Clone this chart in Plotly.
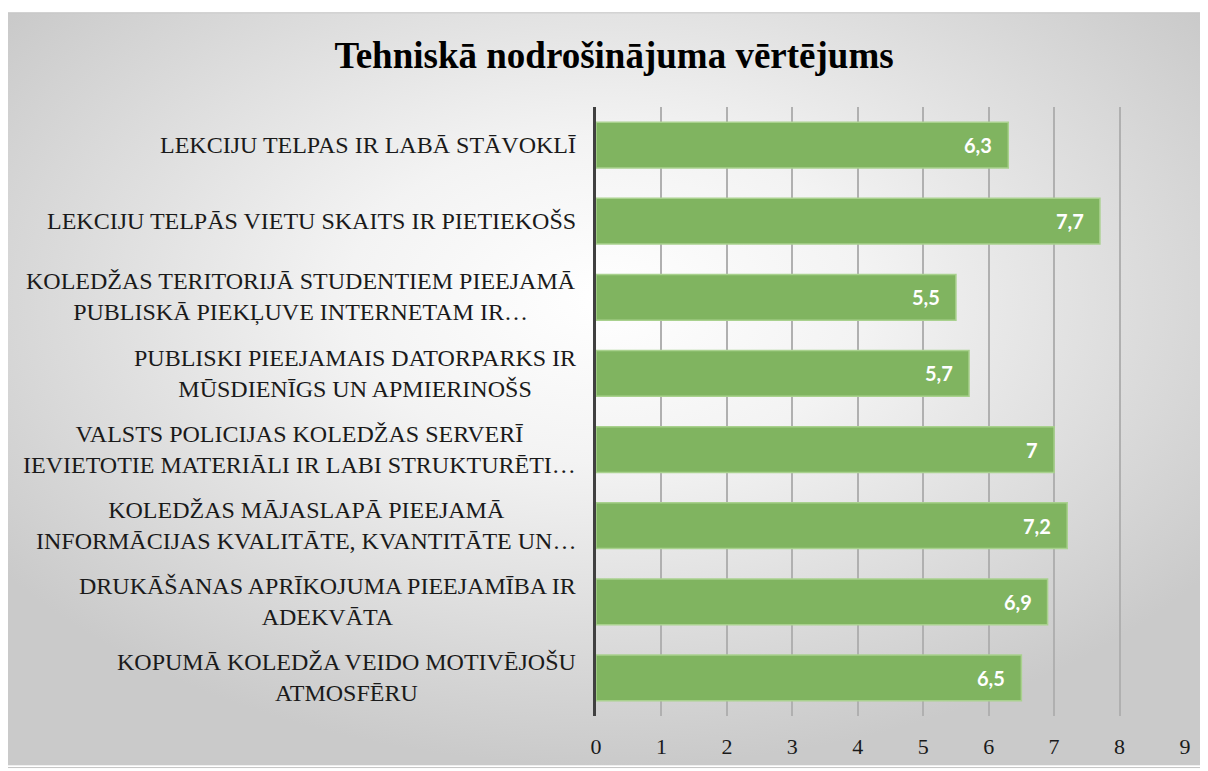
import base64
import plotly.graph_objects as go

categories = [
    "LEKCIJU TELPAS IR LABĀ STĀVOKLĪ",
    "LEKCIJU TELPĀS VIETU SKAITS IR PIETIEKOŠS",
    "KOLEDŽAS TERITORIJĀ STUDENTIEM PIEEJAMĀ<br>PUBLISKĀ PIEKĻUVE INTERNETAM IR…",
    "PUBLISKI PIEEJAMAIS DATORPARKS IR<br>MŪSDIENĪGS UN APMIERINOŠS",
    "VALSTS POLICIJAS KOLEDŽAS SERVERĪ<br>IEVIETOTIE MATERIĀLI IR LABI STRUKTURĒTI…",
    "KOLEDŽAS MĀJASLAPĀ PIEEJAMĀ<br>INFORMĀCIJAS KVALITĀTE, KVANTITĀTE UN…",
    "DRUKĀŠANAS APRĪKOJUMA PIEEJAMĪBA IR<br>ADEKVĀTA",
    "KOPUMĀ KOLEDŽA VEIDO MOTIVĒJOŠU<br>ATMOSFĒRU",
]
values = [6.3, 7.7, 5.5, 5.7, 7.0, 7.2, 6.9, 6.5]
x_ticks = list(range(0, 10))
title_text = "Tehniskā nodrošinājuma vērtējums"

labels = [f"{v:g}".replace(".", ",") for v in values]
cat_ids = [f"c{i}" for i in range(len(categories))]

fig = go.Figure()
fig.add_trace(go.Bar(
    x=values, y=cat_ids, orientation="h",
    marker=dict(color="#80b460", line=dict(color="#a9d18e", width=1.5)),
    width=0.6, hoverinfo="skip",
))

# value labels inside bar end
for cid, v, lab in zip(cat_ids, values, labels):
    fig.add_annotation(
        x=v, xref="x", y=cid, yref="y", text=lab, showarrow=False,
        xanchor="right", yanchor="middle", xshift=-14,
        font=dict(family="Lato", size=20, color="white", weight="bold"),
    )

# category labels (centred multi-line)
for cid, lab in zip(cat_ids, categories):
    fig.add_annotation(
        x=-0.03, xref="paper", y=cid, yref="y",
        text=lab, showarrow=False, xanchor="right", yanchor="middle",
        align="center", font=dict(family="Liberation Serif", size=24, color="#1a1a1a"),
    )

W, H = 1200, 763
L, R, T, B = 588, 1177, 99, 713
pw, ph = R - L, B - T
fx = lambda px: (px - L) / pw
fy = lambda py: (B - py) / ph

# background radial gradient
svg = ('<svg xmlns="http://www.w3.org/2000/svg" width="1202" height="759" viewBox="0 0 1202 759" preserveAspectRatio="none">'
       '<defs><radialGradient id="g" cx="50%" cy="38%" r="62%">'
       '<stop offset="0" stop-color="#ffffff"/><stop offset="0.35" stop-color="#f3f3f3"/>'
       '<stop offset="1" stop-color="#cacaca"/></radialGradient></defs>'
       '<rect width="1202" height="759" fill="url(#g)"/></svg>')
src = "data:image/svg+xml;base64," + base64.b64encode(svg.encode()).decode()

fig.add_layout_image(dict(
    source=src, xref="paper", yref="paper",
    x=fx(-2), y=fy(4), sizex=(W + 2) / pw, sizey=(H - 4) / ph,
    xanchor="left", yanchor="top", sizing="stretch", layer="below",
))
fig.add_shape(type="rect", xref="paper", yref="paper",
              x0=fx(-2), x1=fx(W + 2), y0=fy(H + 2), y1=fy(4),
              line=dict(color="#c4c4c4", width=1), layer="below")

fig.update_layout(
    width=W, height=H,
    margin=dict(l=L, r=W - R, t=T, b=H - B, pad=0),
    paper_bgcolor="white", plot_bgcolor="rgba(0,0,0,0)",
    showlegend=False, bargap=0.4,
    title=dict(text=title_text, x=606 / W, xref="container", xanchor="center",
               y=1 - 47 / H, yref="container", yanchor="middle",
               font=dict(family="Liberation Serif", size=37, color="black", weight="bold")),
)
fig.update_xaxes(range=[0, 9], tickvals=x_ticks, ticktext=[str(t) for t in x_ticks],
                 showgrid=True, gridcolor="#b0b0b0", gridwidth=1.5,
                 zeroline=False, showline=False, ticks="", ticklabelstandoff=15,
                 tickfont=dict(family="Liberation Serif", size=22, color="#1a1a1a"),
                 fixedrange=True)
fig.update_yaxes(categoryorder="array", categoryarray=cat_ids, autorange="reversed",
                 showticklabels=False, showgrid=False, zeroline=False,
                 showline=True, linecolor="#404040", linewidth=3, ticks="",
                 fixedrange=True)

fig.write_html("out.html")
